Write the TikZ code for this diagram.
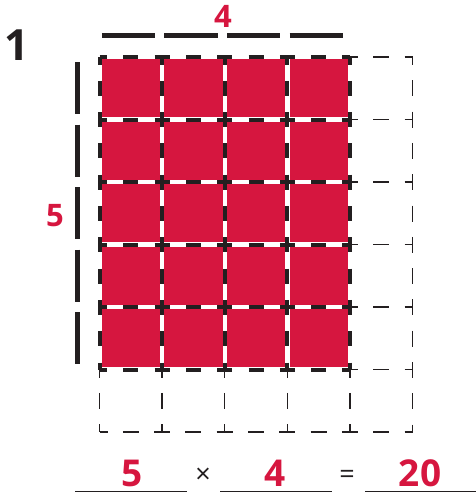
\documentclass[tikz,border=0pt]{standalone}
\usepackage{fontspec}
\usepackage{tikz}
\usetikzlibrary{calc}
\newfontfamily\numfont{Open Sans}
\definecolor{Crimson}{HTML}{D6163F}
\definecolor{Ink}{HTML}{231F20}
\begin{document}
\begin{tikzpicture}[x=1pt,y=-1pt,
        square/.style={fill=Crimson},
        thickgrid/.style={draw=Ink,line width=4pt,dash pattern=on 15pt off 16.3pt,dash phase=7.5pt},
        thingrid/.style={draw=Ink,line width=1.3pt,dash pattern=on 16pt off 15.3pt,dash phase=8pt},
        tick/.style={draw=Ink,line width=4.6pt},
        blank/.style={draw=Ink,line width=1pt},
        label/.style={text=Crimson,inner sep=0pt,anchor=base,font=\numfont\bfseries\fontsize{31}{31}\selectfont},
        answer/.style={text=Crimson,inner sep=0pt,anchor=base,font=\numfont\bfseries\fontsize{37}{37}\selectfont},
        sign/.style={text=Ink,inner sep=0pt,anchor=base,font=\numfont\fontsize{27}{27}\selectfont}]
        \useasboundingbox (0,0) rectangle (476,493);
        \def\cw{62.6}\def\ch{62.5}\def\xo{99.5}\def\yo{57}
        % red squares, 4 by 5
        \foreach \i in {0,...,3}
          \foreach \j in {0,...,4}
            \fill[square] ({\xo+\i*\cw+2.2},{\yo+\j*\ch+2.2}) rectangle ({\xo+(\i+1)*\cw-2.2},{\yo+(\j+1)*\ch-2.2});
        % faint grid for the empty column and row
        \foreach \j in {0,...,6}
          \draw[thingrid] ({\xo+4*\cw},{\yo+\j*\ch}) -- ({\xo+5*\cw},{\yo+\j*\ch});
        \draw[thingrid] (\xo,{\yo+6*\ch}) -- ({\xo+4*\cw},{\yo+6*\ch});
        \draw[thingrid] ({\xo+5*\cw},\yo) -- ({\xo+5*\cw},{\yo+6*\ch});
        \foreach \i in {0,...,4}
          \draw[thingrid] ({\xo+\i*\cw},{\yo+5*\ch}) -- ({\xo+\i*\cw},{\yo+6*\ch});
        % bold grid of the array
        \foreach \j in {0,...,5}
          \draw[thickgrid] (\xo,{\yo+\j*\ch}) -- ({\xo+4*\cw},{\yo+\j*\ch});
        \foreach \i in {0,...,4}
          \draw[thickgrid] ({\xo+\i*\cw},\yo) -- ({\xo+\i*\cw},{\yo+5*\ch});
        % side ticks
        \foreach \i in {0,...,3}
          \draw[tick] ({\xo+\i*\cw+2.3},35.5) -- ({\xo+\i*\cw+55.7},35.5);
        \foreach \j in {0,...,4}
          \draw[tick] (77.7,{\yo+\j*\ch+5}) -- (77.7,{\yo+\j*\ch+57});
        \node[label,text=Ink,font=\numfont\bfseries\fontsize{43}{43}\selectfont] (number) at (17,60) {1};
        \node[label] (cols) at (223,27) {4};
        \node[label] (rows) at (55,226.5) {5};
        % number sentence
        \coordinate (b1) at (75,491);  \coordinate (e1) at (186.7,491);
        \coordinate (b2) at (220,491); \coordinate (e2) at (331.7,491);
        \coordinate (b3) at (365,491); \coordinate (e3) at (476,491);
        \draw[blank] (b1) -- (e1);
        \draw[blank] (b2) -- (e2);
        \draw[blank] (b3) -- (e3);
        \node[answer] (first) at (131.7,486) {5};
        \node[sign] (times) at (203,483) {×};
        \node[answer] (second) at (275,486) {4};
        \node[sign] (equals) at (347,483) {=};
        \node[answer] (product) at (420,486) {20};
      \end{tikzpicture}
\end{document}
